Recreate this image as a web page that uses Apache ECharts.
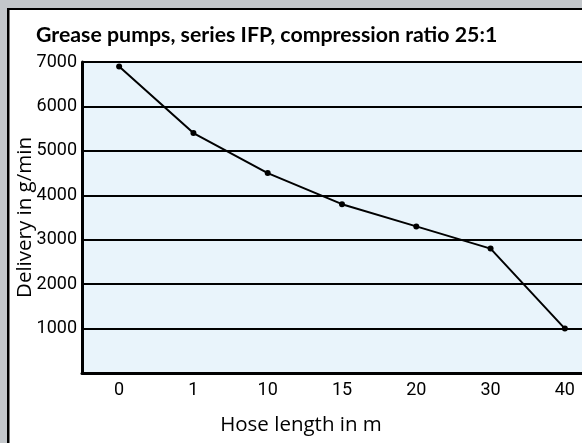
<!DOCTYPE html>
<html>
<head>
<meta charset="utf-8">
<script src="https://cdn.jsdelivr.net/npm/echarts@6/dist/echarts.min.js"></script>
<style>
html,body{margin:0;padding:0;background:#fff;}
#chart{width:582px;height:443px;}
</style>
</head>
<body>
<div id="chart"></div>
<script>
const titleText = 'Grease pumps, series IFP, compression ratio 25:1';
const xCategories = ['0', '1', '10', '15', '20', '30', '40'];
const deliveryValues = [6900, 5400, 4500, 3800, 3300, 2800, 1000];
const yTickValues = [1000, 2000, 3000, 4000, 5000, 6000, 7000];
const xAxisName = 'Hose length in m';
const yAxisName = 'Delivery in g/min';

const tickFont = 'Roboto, "Liberation Sans", sans-serif';
const nameFont = '"Open Sans", sans-serif';
const chart = echarts.init(document.getElementById('chart'), null, {renderer: 'canvas'});
chart.setOption({
  backgroundColor: '#c3c7cb',
  animation: false,
  graphic: [
    {type: 'rect', z: -10, shape: {x: 7, y: 8, width: 600, height: 460}, style: {fill: '#000'}},
    {type: 'rect', z: -9, shape: {x: 9.5, y: 10, width: 600, height: 460}, style: {fill: '#fff'}}
  ],
  title: {
    text: titleText,
    left: 31, top: 20,
    textStyle: {fontFamily: 'Lato, sans-serif', fontWeight: 'bold', fontSize: 21.3, color: '#000'}
  },
  grid: {
    left: 82, top: 62, width: 520, height: 311,
    outerBoundsMode: 'none',
    containLabel: false,
    show: true, backgroundColor: '#e9f4fb', borderWidth: 0
  },
  xAxis: {
    type: 'category',
    data: xCategories,
    boundaryGap: true,
    axisLine: {show: true, lineStyle: {color: '#000', width: 3}},
    axisTick: {show: false},
    axisLabel: {fontFamily: tickFont, fontSize: 18, color: '#000', margin: 8},
    name: xAxisName,
    nameLocation: 'middle',
    nameGap: 42,
    nameMoveOverlap: false,
    nameTextStyle: {fontFamily: nameFont, fontSize: 20.5, color: '#000', padding: [0, 82, 0, 0]}
  },
  yAxis: {
    type: 'value',
    min: 0, max: 7000, interval: 1000,
    axisLine: {show: true, lineStyle: {color: '#000', width: 3}},
    axisTick: {show: false},
    splitLine: {show: true, lineStyle: {color: '#000', width: 2}},
    axisLabel: {
      fontFamily: tickFont, fontSize: 18, color: '#000', margin: 5,
      padding: [8, 0, 0, 0],
      formatter: v => yTickValues.includes(v) ? String(v) : ''
    },
    name: yAxisName,
    nameLocation: 'middle',
    nameGap: 46,
    nameMoveOverlap: false,
    nameTextStyle: {fontFamily: nameFont, fontSize: 20.5, color: '#000'}
  },
  series: [{
    type: 'line',
    data: deliveryValues,
    lineStyle: {color: '#000', width: 2},
    itemStyle: {color: '#000'},
    symbol: 'circle',
    symbolSize: 6,
    clip: false
  }]
});
</script>
</body>
</html>
